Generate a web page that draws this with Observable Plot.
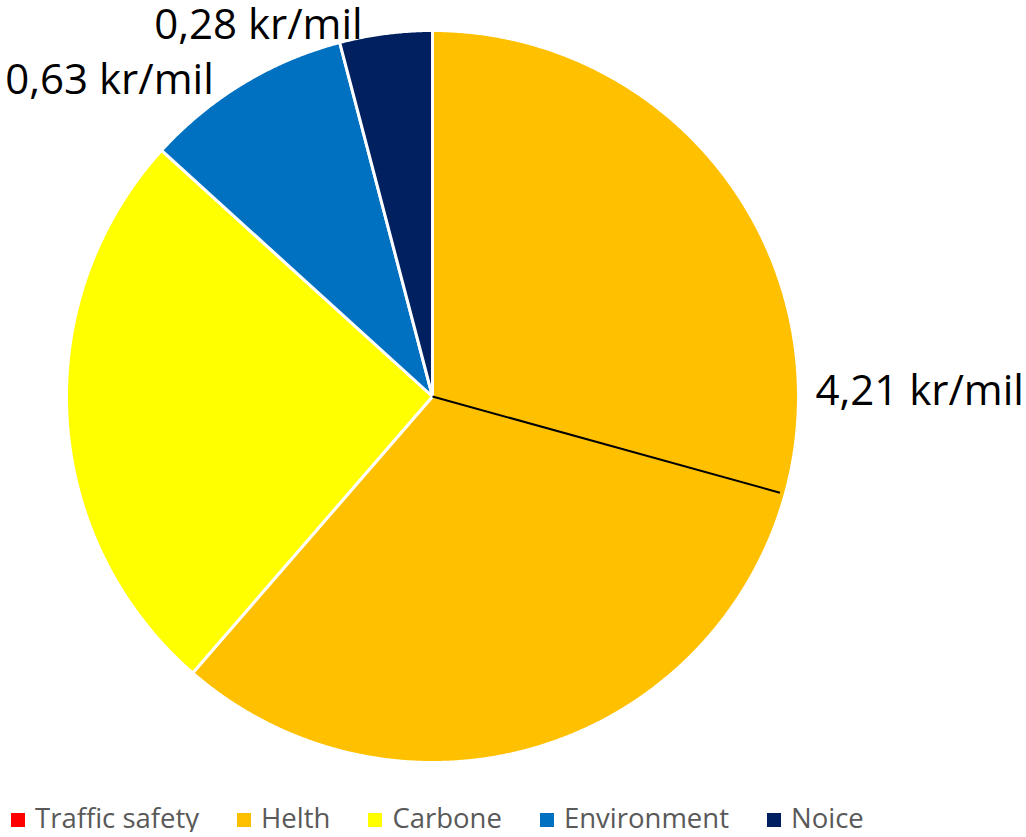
<!DOCTYPE html>
<html>
<head>
<meta charset="utf-8">
<script src="https://cdn.jsdelivr.net/npm/d3@7"></script>
<script src="https://cdn.jsdelivr.net/npm/@observablehq/plot@0.6"></script>
<style>
  html, body { margin: 0; padding: 0; background: #fff; }
  #chart svg { display: block; }
  .legend { display: flex; align-items: center; height: 28px; line-height: 28px; margin-top: 14px; padding-left: 11px;
            font-family: "Open Sans", sans-serif; font-size: 27.5px; color: #595959; }
  .legend .item { display: flex; align-items: center; margin-right: 38px; }
  .legend .sw { width: 14px; height: 14px; margin-right: 10px; position: relative; top: 2px; }
</style>
</head>
<body>
<div id="chart"></div>
<div class="legend" id="legend"></div>
<script>
// Data
const names  = ["Traffic safety", "Helth", "Carbone", "Environment", "Noice"];
const values = [0, 4.21, 1.74, 0.63, 0.28];
const colors = ["#FF0000", "#FFC000", "#FFFF00", "#0070C0", "#002060"];
const labels = ["", "4,21 kr/mil", "", "0,63 kr/mil", "0,28 kr/mil"];
const helthSplit = 2.01; // position of the thin black divider inside Helth

const total = d3.sum(values);
const ang = v => v / total * 2 * Math.PI; // clockwise from 12 o'clock

let cum = 0;
const slices = names.map((n, i) => {
  const a0 = ang(cum); cum += values[i]; const a1 = ang(cum);
  return {name: n, value: values[i], a0, a1, mid: (a0 + a1) / 2, label: labels[i]};
});

// polygon points for each slice
const pts = [];
for (const s of slices) {
  if (s.value <= 0) continue;
  pts.push({name: s.name, x: 0, y: 0});
  const steps = Math.max(2, Math.ceil((s.a1 - s.a0) / (Math.PI / 720)));
  for (let k = 0; k <= steps; k++) {
    const a = s.a0 + (s.a1 - s.a0) * k / steps;
    pts.push({name: s.name, x: Math.sin(a), y: Math.cos(a)});
  }
  pts.push({name: s.name, x: 0, y: 0});
}

const byName = n => slices.filter(s => s.name === n);
const lx = s => Math.sin(s.mid), ly = s => Math.cos(s.mid);

const chart = Plot.plot({
  width: 1026,
  height: 790,
  marginLeft: 66,
  marginRight: 228,
  marginTop: 30,
  marginBottom: 28,
  x: {domain: [-1, 1], axis: null},
  y: {domain: [-1, 1], axis: null},
  color: {domain: names, range: colors},
  style: {fontFamily: "'Open Sans', sans-serif", overflow: "visible", background: "#fff"},
  marks: [
    Plot.line(pts, {x: "x", y: "y", z: "name", fill: "name", stroke: "#fff", strokeWidth: 3,
                    strokeLinejoin: "round", curve: "linear"}),
    Plot.link([helthSplit], {
      x1: () => 0, y1: () => 0,
      x2: v => 0.985 * Math.sin(ang(v)), y2: v => 0.985 * Math.cos(ang(v)),
      stroke: "#000", strokeWidth: 2
    }),
    Plot.text(byName("Helth"), {x: lx, y: ly, text: "label", textAnchor: "start", dx: 40, dy: -133,
                                fontSize: 42, fill: "#000"}),
    Plot.text(byName("Environment"), {x: lx, y: ly, text: "label", textAnchor: "end", dx: -29, dy: -3,
                                fontSize: 42, fill: "#000"}),
    Plot.text(byName("Noice"), {x: lx, y: ly, text: "label", textAnchor: "end", dx: -23, dy: -8,
                                fontSize: 42, fill: "#000"})
  ]
});
document.getElementById("chart").appendChild(chart);

// Legend
const leg = document.getElementById("legend");
names.forEach((n, i) => {
  const it = document.createElement("div"); it.className = "item";
  const sw = document.createElement("span"); sw.className = "sw"; sw.style.background = colors[i];
  const tx = document.createElement("span"); tx.textContent = n;
  it.appendChild(sw); it.appendChild(tx); leg.appendChild(it);
});
</script>
</body>
</html>
